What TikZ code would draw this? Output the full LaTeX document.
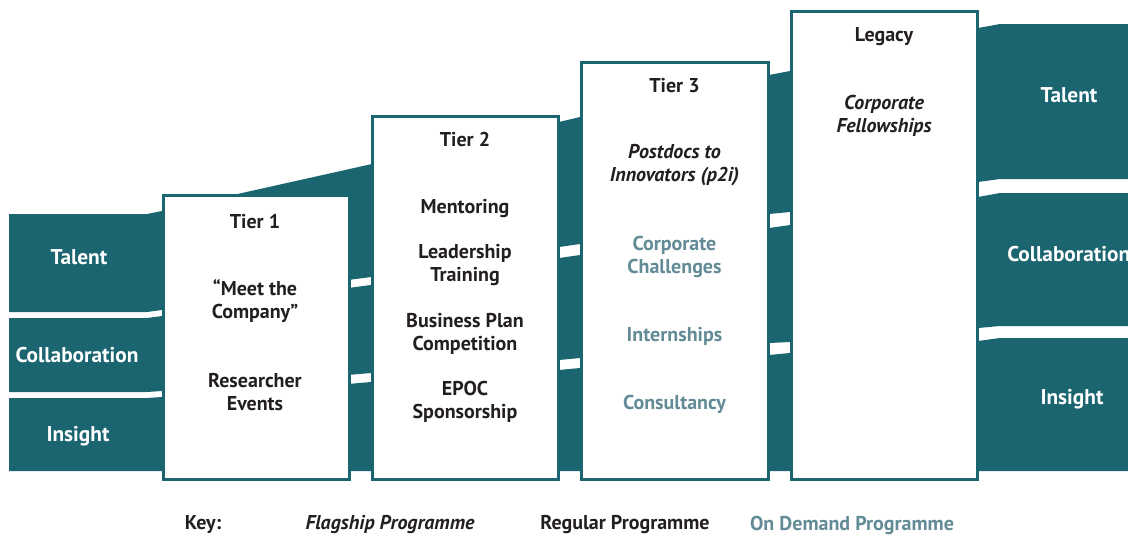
\documentclass[tikz,border=0pt]{standalone}
\usepackage{fontspec}
\setmainfont{PT Sans}
\definecolor{teal1}{RGB}{26,101,112}
\definecolor{lightt}{RGB}{98,139,150}
\definecolor{ink}{RGB}{35,31,32}
\begin{document}
\begin{tikzpicture}[x=0.75pt,y=-0.75pt,
  band/.style={fill=teal1},
  tierbox/.style={draw=teal1, line width=2.25pt, fill=white},
  boxtxt/.style={font=\bfseries\fontsize{15}{17.25}\selectfont, text=ink, align=center, inner sep=0pt},
  flag/.style={boxtxt, font=\bfseries\itshape\fontsize{15}{17.25}\selectfont},
  ondem/.style={boxtxt, text=lightt},
  bandtxt/.style={font=\bfseries\fontsize{16}{18}\selectfont, text=white, inner sep=0pt},
  keytxt/.style={font=\bfseries\fontsize{15}{17}\selectfont, text=ink, inner sep=0pt}]
\useasboundingbox (0,0) rectangle (1128,536);
\clip (0,0) rectangle (1128,536);
% bands
\fill[band] (9,214) -- (147,214) -- (162,211) -- (242,193) -- (372,164) -- (559,122) -- (580,117) -- (769,75) -- (790,71) -- (978,28) -- (1000,24) -- (1135,24)
  -- (1135,179) -- (1000,179) -- (978,182) -- (790,212) -- (769,214) -- (580,244) -- (559,247) -- (371,277) -- (348,280) -- (162,310) -- (147,312) -- (9,312) -- cycle;
\fill[band] (9,318) -- (147,318) -- (162,316) -- (348,288) -- (371,285) -- (559,258) -- (580,255) -- (769,228) -- (790,225) -- (978,197) -- (1000,193) -- (1135,193)
  -- (1135,326) -- (1000,326) -- (978,328) -- (790,342) -- (769,343) -- (580,358) -- (559,360) -- (371,373) -- (348,375) -- (162,391) -- (147,392) -- (9,392) -- cycle;
\fill[band] (9,398) -- (147,398) -- (162,397) -- (348,384) -- (371,382) -- (559,370) -- (580,368) -- (769,355) -- (790,353) -- (978,341) -- (1000,338) -- (1135,338)
  -- (1135,471) -- (9,471) -- cycle;
% boxes
\draw[tierbox] (163,195.5) rectangle (349,479.5);
\draw[tierbox] (372,116.5) rectangle (558,479.5);
\draw[tierbox] (581.5,62) rectangle (768,479.5);
\draw[tierbox] (791,11.5) rectangle (977,479.5);
% band labels
\node[bandtxt] (lt) at (79,257) {Talent};
\node[bandtxt] (lc) at (77,355) {Collaboration};
\node[bandtxt] (li) at (78,436) {Insight};
\node[bandtxt] (rt) at (1069,95) {Talent};
\node[bandtxt, anchor=west] (rc) at (1007,254) {Collaboration};
\node[bandtxt] (ri) at (1072,399) {Insight};
% tier 1
\node[boxtxt] (t1h) at (255,221.5) {Tier 1};
\node[boxtxt] (t1a) at (255,301.5) {“Meet the\\Company”};
\node[boxtxt] (t1b) at (255,392.5) {Researcher\\Events};
% tier 2
\node[boxtxt] (t2h) at (465,139.5) {Tier 2};
\node[boxtxt] (t2a) at (465,208.5) {Mentoring};
\node[boxtxt] (t2b) at (465,265) {Leadership\\Training};
\node[boxtxt] (t2c) at (465,333.5) {Business Plan\\Competition};
\node[boxtxt] (t2d) at (465,402) {EPOC\\Sponsorship};
% tier 3
\node[boxtxt] (t3h) at (674.5,85.5) {Tier 3};
\node[flag] (t3a) at (674.5,165.5) {Postdocs to\\Innovators (p2i)};
\node[ondem] (t3b) at (674.5,257) {Corporate\\Challenges};
\node[ondem] (t3c) at (674.5,336.5) {Internships};
\node[ondem] (t3d) at (674.5,404.5) {Consultancy};
% legacy
\node[boxtxt] (lgh) at (884,36.5) {Legacy};
\node[flag] (lga) at (884,116) {Corporate\\Fellowships};
% key
\node[keytxt] (k0) at (203,525) {Key:};
\node[keytxt, font=\bfseries\itshape\fontsize{15}{17}\selectfont] (k1) at (390,525) {Flagship Programme};
\node[keytxt] (k2) at (625,525) {Regular Programme};
\node[keytxt, text=lightt] (k3) at (852,525) {On Demand Programme};
\end{tikzpicture}
\end{document}
